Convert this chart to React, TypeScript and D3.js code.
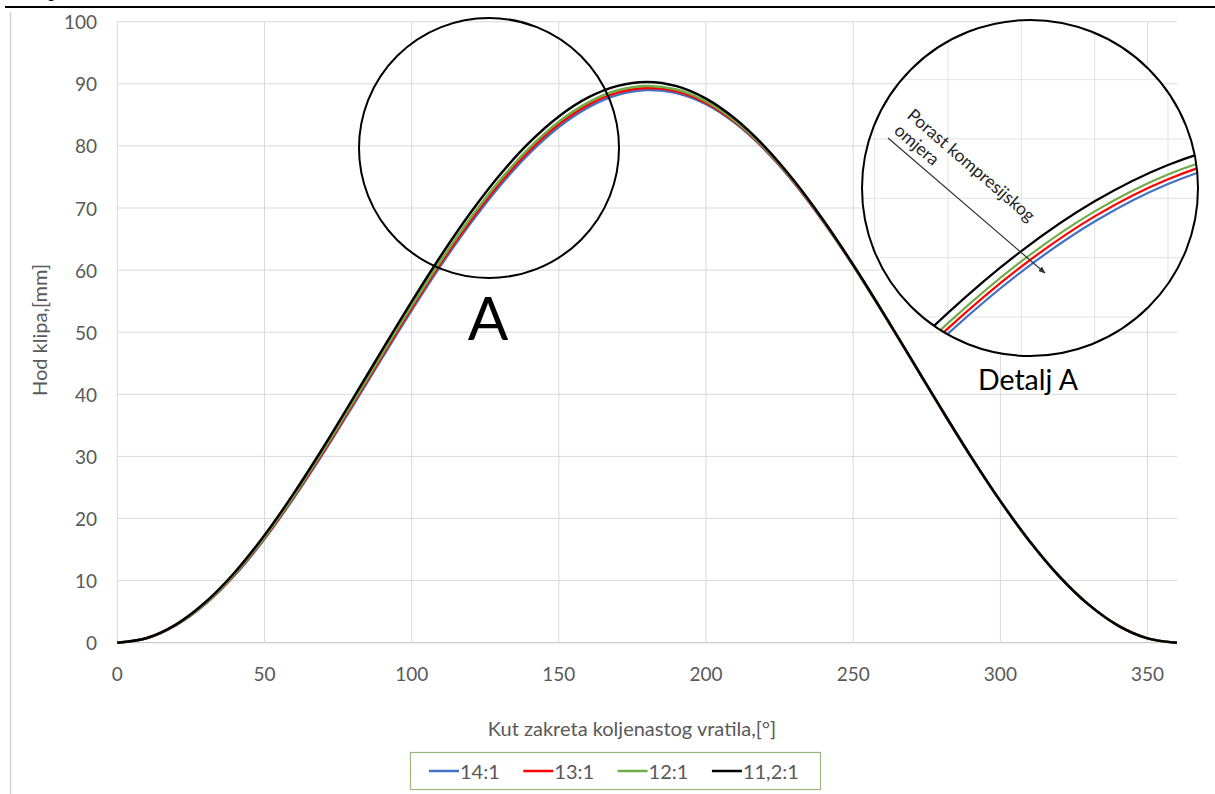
import React from "react";
import * as d3 from "d3";

// ---- data ----
const angles = [0, 10, 20, 30, 40, 50, 60, 70, 80, 90, 100, 110, 120, 130, 140, 150, 160, 170, 180,
  190, 200, 210, 220, 230, 240, 250, 260, 270, 280, 290, 300, 310, 320, 330, 340, 350, 360];

const s14 = [0, 0.7, 2.81, 6.25, 10.94, 16.7, 23.33, 30.52, 38.15, 45.9, 53.53, 60.81, 67.53, 73.6, 78.81, 83.05, 86.21, 88.22, 89.0,
  88.52, 86.71, 83.63, 79.36, 74.0, 67.7, 60.71, 53.18, 45.39, 37.56, 29.95, 22.8, 16.3, 10.69, 6.13, 2.76, 0.7, 0];
const s13 = [0, 0.71, 2.85, 6.33, 11.05, 16.85, 23.52, 30.76, 38.43, 46.21, 53.88, 61.2, 67.96, 74.04, 79.25, 83.48, 86.61, 88.58, 89.33,
  88.8, 86.94, 83.81, 79.49, 74.09, 67.76, 60.75, 53.21, 45.41, 37.57, 29.96, 22.8, 16.3, 10.69, 6.13, 2.76, 0.7, 0];
const s12 = [0, 0.73, 2.89, 6.4, 11.17, 17.0, 23.71, 31.0, 38.7, 46.53, 54.23, 61.59, 68.38, 74.48, 79.69, 83.9, 87.01, 88.95, 89.65,
  89.07, 87.16, 83.98, 79.61, 74.18, 67.83, 60.79, 53.23, 45.42, 37.58, 29.96, 22.8, 16.3, 10.69, 6.13, 2.76, 0.7, 0];
const s112 = [0, 0.75, 2.96, 6.55, 11.39, 17.3, 24.08, 31.47, 39.25, 47.15, 54.93, 62.36, 69.23, 75.35, 80.56, 84.75, 87.81, 89.67, 90.3,
  89.62, 87.61, 84.33, 79.86, 74.35, 67.95, 60.86, 53.28, 45.45, 37.6, 29.97, 22.8, 16.3, 10.69, 6.13, 2.76, 0.7, 0];

const seriesNames = ["14:1", "13:1", "12:1", "11,2:1"];
const seriesColors = ["#4472c4", "#ff0000", "#70ad47", "#000000"];
const seriesValues = [s14, s13, s12, s112];

const xTicks = [0, 50, 100, 150, 200, 250, 300, 350];
const yTicks = [0, 10, 20, 30, 40, 50, 60, 70, 80, 90, 100];
// gridlines of the magnified detail view
const xDetailTicks = [110, 120, 130, 140, 150, 160, 170];
const yDetailTicks = [65, 70, 75, 80, 85, 90, 95, 100];

const xTitle = "Kut zakreta koljenastog vratila,[°]";
const yTitle = "Hod klipa,[mm]";

const FONT = "Lato, 'Open Sans', sans-serif";
const GRAY = "#595959";

export default function App() {
  const x = d3.scaleLinear().domain([0, 360]).range([117.3, 1177]);
  const y = d3.scaleLinear().domain([0, 100]).range([642.7, 21.7]);

  // magnified detail scales
  const xd = d3.scaleLinear().domain([130, 160]).range([948, 1168]);
  const yd = d3.scaleLinear().domain([75, 90]).range([317, 139]);

  const line = d3
    .line<[number, number]>()
    .x((d) => x(d[0]))
    .y((d) => y(d[1]))
    .curve(d3.curveCatmullRom.alpha(0.5));

  const lineD = d3
    .line<[number, number]>()
    .x((d) => xd(d[0]))
    .y((d) => yd(d[1]))
    .curve(d3.curveCatmullRom.alpha(0.5));

  const pts = (vals: number[]) => angles.map((a, i) => [a, vals[i]] as [number, number]);
  const ptsDetail = (vals: number[]) =>
    angles.map((a, i) => [a, vals[i]] as [number, number]).filter((d) => d[0] >= 100 && d[0] <= 190);

  const [x0, x1] = x.range();
  const [y0, y1] = y.range();

  const ang = 40.7;
  const rad = (ang * Math.PI) / 180;
  const nx = -Math.sin(rad), ny = Math.cos(rad);
  const t1 = [906, 117];
  const t2 = [t1[0] + 20 * nx, t1[1] + 20 * ny];

  const dc = { cx: 1030, cy: 188, r: 168 };

  return (
    <svg width={1215} height={794} style={{ position: "absolute", left: 0, top: 0, background: "#fff" }}>
      <defs>
        <clipPath id="detClip">
          <circle cx={dc.cx} cy={dc.cy} r={dc.r} />
        </clipPath>
        <marker id="arr" viewBox="0 0 10 10" refX="9" refY="5" markerWidth="6" markerHeight="6" orient="auto">
          <path d="M0,1 L10,5 L0,9 z" fill="#333" />
        </marker>
      </defs>

      {/* page decorations */}
      <text x={52} y={-3} fontFamily="DejaVu Serif" fontStyle="italic" fontSize={18} fill="#000">j</text>
      <line x1={5} x2={1215} y1={7} y2={7} stroke="#000" strokeWidth={2} />
      <line x1={10.5} x2={10.5} y1={12} y2={794} stroke="#d4d4d4" strokeWidth={1.5} />

      {/* gridlines */}
      {yTicks.map((t) => (
        <line key={"gy" + t} x1={x0} x2={x1} y1={y(t)} y2={y(t)} stroke={t === 0 ? "#bfbfbf" : "#d9d9d9"} strokeWidth={1} />
      ))}
      {xTicks.map((t) => (
        <line key={"gx" + t} x1={x(t)} x2={x(t)} y1={y1} y2={y0} stroke="#d9d9d9" strokeWidth={1} />
      ))}

      {/* tick labels */}
      {yTicks.map((t) => (
        <text key={"ty" + t} x={97} y={y(t)} textAnchor="end" dominantBaseline="central" fontFamily={FONT} fontSize={19} fill={GRAY}>
          {t}
        </text>
      ))}
      {xTicks.map((t) => (
        <text key={"tx" + t} x={x(t)} y={673} textAnchor="middle" dominantBaseline="central" fontFamily={FONT} fontSize={19} fill={GRAY}>
          {t}
        </text>
      ))}

      {/* axis titles */}
      <text x={632} y={736} textAnchor="middle" fontFamily={FONT} fontSize={20} fill={GRAY}>{xTitle}</text>
      <text transform="translate(47,330) rotate(-90)" textAnchor="middle" fontFamily={FONT} fontSize={20} fill={GRAY}>{yTitle}</text>

      {/* series */}
      {seriesValues.map((vals, i) => (
        <path key={"s" + i} d={line(pts(vals)) || ""} fill="none" stroke={seriesColors[i]} strokeWidth={2.5} />
      ))}

      {/* circle A */}
      <circle cx={489} cy={148} r={130} fill="none" stroke="#000" strokeWidth={2} />
      <text x={488} y={340} textAnchor="middle" fontFamily={FONT} fontSize={60} fill="#000">A</text>

      {/* detail */}
      <circle cx={dc.cx} cy={dc.cy} r={dc.r} fill="#fff" stroke="none" />
      <g clipPath="url(#detClip)">
        {xDetailTicks.map((t) => (
          <line key={"dgx" + t} x1={xd(t)} x2={xd(t)} y1={dc.cy - dc.r} y2={dc.cy + dc.r} stroke="#e3e3e3" strokeWidth={1} />
        ))}
        {yDetailTicks.map((t) => (
          <line key={"dgy" + t} x1={dc.cx - dc.r} x2={dc.cx + dc.r} y1={yd(t)} y2={yd(t)} stroke="#e3e3e3" strokeWidth={1} />
        ))}
        {seriesValues.map((vals, i) => (
          <path key={"d" + i} d={lineD(ptsDetail(vals)) || ""} fill="none" stroke={seriesColors[i]} strokeWidth={2.2} />
        ))}
      </g>
      <circle cx={dc.cx} cy={dc.cy} r={dc.r} fill="none" stroke="#000" strokeWidth={2} />
      <line x1={888} y1={138} x2={1045} y2={273} stroke="#333" strokeWidth={1.2} markerEnd="url(#arr)" />
      <text transform={`translate(${t1[0]},${t1[1]}) rotate(${ang})`} fontFamily={FONT} fontSize={17.5} fill="#262626">
        Porast kompresijskog
      </text>
      <text transform={`translate(${t2[0]},${t2[1]}) rotate(${ang})`} fontFamily={FONT} fontSize={17.5} fill="#262626">
        omjera
      </text>
      <text x={1028} y={390} textAnchor="middle" fontFamily={FONT} fontSize={28.5} fill="#000">Detalj A</text>

      {/* legend */}
      <rect x={410.5} y={752.5} width={410} height={37} fill="#fff" stroke="#9cb77f" strokeWidth={1.2} />
      {seriesNames.map((n, i) => {
        const lx = 429 + i * 94.3;
        return (
          <g key={"l" + i}>
            <line x1={lx} x2={lx + 30} y1={771} y2={771} stroke={seriesColors[i]} strokeWidth={2.5} />
            <text x={lx + 31} y={771} dominantBaseline="central" fontFamily={FONT} fontSize={20} fill={GRAY}>{n}</text>
          </g>
        );
      })}
    </svg>
  );
}
